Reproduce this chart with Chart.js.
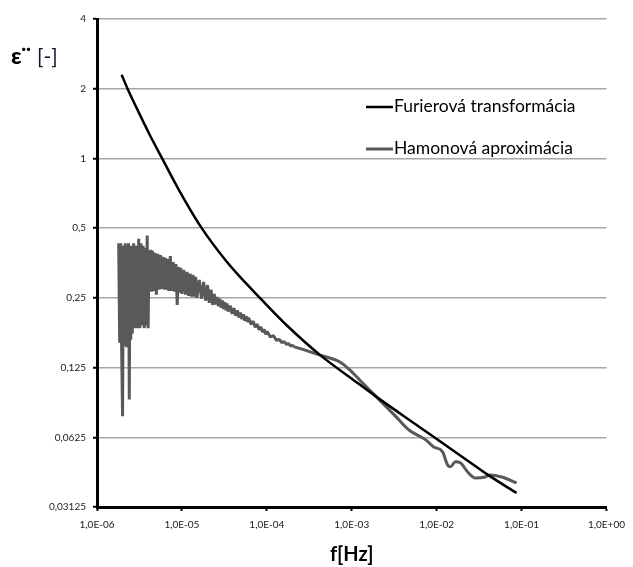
<!DOCTYPE html>
<html>
<head>
<meta charset="utf-8">
<script src="https://cdn.jsdelivr.net/npm/chart.js@4.4.0/dist/chart.umd.min.js"></script>
<style>
  body { margin: 0; background: #fff; }
  #wrap { width: 633px; height: 567px; }
</style>
</head>
<body>
<div id="wrap"><canvas id="myChart" width="633" height="567"></canvas></div>
<script>
// axis ticks
const xTicks = [1e-6, 1e-5, 1e-4, 1e-3, 1e-2, 1e-1, 1];
const xTickLabels = ["1,0E-06", "1,0E-05", "1,0E-04", "1,0E-03", "1,0E-02", "1,0E-01", "1,0E+00"];
const yTicks = [0.03125, 0.0625, 0.125, 0.25, 0.5, 1, 2, 4];
const yTickLabels = ["0,03125", "0,0625", "0,125", "0,25", "0,5", "1", "2", "4"];

const seriesNames = ["Furierová transformácia", "Hamonová aproximácia"];

// Furierová transformácia
const furierFreq = [1.95e-6, 2.29e-6, 2.77e-6, 3.43e-6, 4.13e-6, 5.85e-6, 9.23e-6, 1.71e-5,
  3.25e-5, 4.6e-5, 8.29e-5, 1.75e-4, 4.25e-4, 1.055e-3, 1.954e-3, 5.70e-3, 9.74e-3,
  2.17e-2, 4.02e-2, 8.75e-2];
const furierVal = [2.30, 2.0, 1.723, 1.465, 1.275, 1.0, 0.730, 0.5,
  0.364, 0.314, 0.25, 0.189, 0.1415, 0.1103, 0.0934, 0.0710, 0.0619,
  0.0504, 0.0430, 0.0359];

// Hamonová aproximácia, noisy low-frequency part
const hamonNoisyFreq = [
  1.80e-6, 1.85e-6, 1.90e-6, 1.95e-6, 2.00e-6, 2.05e-6, 2.10e-6, 2.15e-6, 2.20e-6, 2.25e-6,
  2.30e-6, 2.35e-6, 2.40e-6, 2.45e-6, 2.50e-6, 2.55e-6, 2.60e-6, 2.70e-6, 2.80e-6, 2.90e-6,
  3.00e-6, 3.10e-6, 3.20e-6, 3.30e-6, 3.40e-6, 3.50e-6, 3.60e-6, 3.70e-6, 3.80e-6, 3.90e-6,
  4.00e-6, 4.10e-6, 4.20e-6,
  4.3e-6, 4.4e-6, 4.5e-6, 4.6e-6, 4.7e-6, 4.8e-6, 4.9e-6, 5.0e-6,
  5.2e-6, 5.4e-6, 5.6e-6, 5.8e-6, 6.0e-6, 6.2e-6, 6.4e-6, 6.6e-6, 6.8e-6, 7.0e-6,
  7.3e-6, 7.6e-6, 7.9e-6, 8.2e-6, 8.5e-6, 8.8e-6, 9.1e-6, 9.4e-6, 9.7e-6,
  1.0e-5, 1.05e-5, 1.1e-5, 1.15e-5, 1.2e-5, 1.25e-5, 1.3e-5, 1.35e-5, 1.4e-5, 1.45e-5, 1.5e-5,
  1.6e-5, 1.7e-5, 1.8e-5, 1.9e-5, 2.0e-5, 2.1e-5, 2.2e-5, 2.3e-5, 2.4e-5,
  2.5e-5, 2.6e-5, 2.7e-5, 2.8e-5, 2.9e-5, 3.0e-5, 3.1e-5, 3.2e-5, 3.3e-5, 3.4e-5, 3.5e-5,
  3.7e-5, 3.9e-5, 4.1e-5, 4.3e-5, 4.5e-5, 4.7e-5, 4.9e-5, 5.1e-5, 5.3e-5, 5.5e-5,
  5.7e-5, 5.9e-5, 6.1e-5, 6.5e-5, 6.9e-5, 7.3e-5, 7.7e-5, 8.1e-5, 8.5e-5, 8.9e-5,
  9.3e-5, 9.7e-5, 1.01e-4, 1.1e-4, 1.2e-4, 1.3e-4, 1.4e-4, 1.5e-4, 1.6e-4, 1.7e-4,
  1.8e-4, 1.9e-4, 2.0e-4, 2.1e-4
];
const hamonNoisyVal = [
  0.43, 0.16, 0.43, 0.155, 0.077, 0.42, 0.16, 0.43, 0.155, 0.42,
  0.16, 0.43, 0.091, 0.42, 0.165, 0.41, 0.175, 0.43, 0.185, 0.42,
  0.185, 0.45, 0.185, 0.43, 0.19, 0.42, 0.185, 0.41, 0.19, 0.465,
  0.185, 0.40, 0.27,
  0.403, 0.266, 0.399, 0.268, 0.391, 0.271, 0.387, 0.258,
  0.387, 0.271, 0.383, 0.273, 0.376, 0.271, 0.372, 0.271, 0.368, 0.268,
  0.379, 0.268, 0.357, 0.266, 0.350, 0.233, 0.340, 0.263, 0.337,
  0.260, 0.330, 0.258, 0.324, 0.255, 0.318, 0.253, 0.314, 0.253, 0.308, 0.250,
  0.299, 0.248, 0.293, 0.243, 0.284, 0.238, 0.271, 0.233, 0.260,
  0.2339, 0.2525, 0.2302, 0.2478, 0.2265, 0.2439, 0.2237, 0.2397, 0.2208, 0.2362, 0.2182,
  0.2316, 0.2132, 0.2257, 0.2094, 0.2208, 0.2057, 0.2162, 0.2025, 0.2124, 0.1993,
  0.2086, 0.1967, 0.2051, 0.1922, 0.1983, 0.1868, 0.1924, 0.1821, 0.1874, 0.1778,
  0.1828, 0.1739, 0.1788, 0.1695, 0.1716, 0.1637, 0.1655, 0.1604, 0.1618, 0.1576,
  0.1586, 0.1552, 0.1558, 0.1536
];

// Hamonová aproximácia, smooth high-frequency part
const hamonSmoothFreq = [2.1e-4, 3.0e-4, 4.25e-4, 7.24e-4, 9.48e-4, 1.24e-3, 1.954e-3, 3.34e-3,
  4.72e-3, 7.45e-3, 9.23e-3, 1.175e-2, 1.343e-2, 1.455e-2, 1.663e-2, 1.90e-2, 2.36e-2,
  2.84e-2, 3.72e-2, 4.25e-2, 5.85e-2, 8.75e-2];
const hamonSmoothVal = [0.1536, 0.1476, 0.1415, 0.1322, 0.1222, 0.1105, 0.0934, 0.0766,
  0.0672, 0.0609, 0.0568, 0.0541, 0.0475, 0.0466, 0.0490, 0.0485, 0.0439,
  0.0417, 0.0421, 0.0430, 0.0421, 0.0397];

const FONT = "Lato, 'Open Sans', sans-serif";
const GRAY = "#595959";

function toPoints(xs, ys) {
  return xs.map((x, i) => ({ x: x, y: ys[i] }));
}

// legend drawn inside the plot area
const innerLegend = {
  id: "innerLegend",
  afterDraw(chart) {
    const ctx = chart.ctx;
    const rows = [107, 149];
    ctx.save();
    chart.data.datasets.filter(ds => ds.inLegend).forEach((ds, i) => {
      const y = rows[i];
      ctx.strokeStyle = ds.borderColor;
      ctx.lineWidth = ds.borderWidth;
      ctx.beginPath();
      ctx.moveTo(366, y);
      ctx.lineTo(393, y);
      ctx.stroke();
      ctx.fillStyle = "#000";
      ctx.font = "17.5px " + FONT;
      ctx.textBaseline = "middle";
      ctx.textAlign = "left";
      ctx.fillText(ds.label, 394, y - 1);
    });
    ctx.restore();
  }
};

// horizontal y-axis title at top left
const yTitle = {
  id: "yTitle",
  afterDraw(chart) {
    const ctx = chart.ctx;
    ctx.save();
    ctx.fillStyle = "#000";
    ctx.textBaseline = "alphabetic";
    ctx.font = "900 23px " + FONT;
    ctx.fillText("ε¨", 11, 64);
    ctx.fillStyle = "#0b1630";
    ctx.font = "21px " + FONT;
    ctx.fillText("[-]", 37, 64);
    ctx.restore();
  }
};

const ctx = document.getElementById("myChart").getContext("2d");

const myChart = new Chart(ctx, {
  type: "line",
  data: {
    datasets: [
      {
        label: seriesNames[0],
        inLegend: true,
        data: toPoints(furierFreq, furierVal),
        borderColor: "#000000",
        borderWidth: 2.5,
        pointRadius: 0,
        cubicInterpolationMode: "monotone",
        order: 0
      },
      {
        label: seriesNames[1],
        inLegend: true,
        data: toPoints(hamonSmoothFreq, hamonSmoothVal),
        borderColor: GRAY,
        borderWidth: 3,
        pointRadius: 0,
        cubicInterpolationMode: "monotone",
        order: 1
      },
      {
        label: seriesNames[1],
        inLegend: false,
        data: toPoints(hamonNoisyFreq, hamonNoisyVal),
        borderColor: GRAY,
        borderWidth: 3,
        borderJoinStyle: "bevel",
        pointRadius: 0,
        tension: 0,
        order: 1
      }
    ]
  },
  options: {
    responsive: false,
    animation: false,
    devicePixelRatio: 1,
    layout: { padding: { left: 0, right: 21, top: 19, bottom: 0 } },
    plugins: { legend: { display: false }, tooltip: { enabled: false } },
    scales: {
      x: {
        type: "logarithmic",
        min: 1e-6,
        max: 1,
        afterBuildTicks: (s) => { s.ticks = xTicks.map(v => ({ value: v })); },
        afterFit: (s) => { s.height = 60; },
        ticks: {
          callback: (v, i) => xTickLabels[i],
          autoSkip: false,
          maxRotation: 0,
          color: "#1a1a1a",
          font: { family: FONT, size: 10 },
          padding: 8
        },
        grid: { drawOnChartArea: false, tickLength: 4, tickColor: "#000", tickWidth: 2 },
        border: { color: "#000", width: 3 },
        title: {
          display: true,
          text: "f[Hz]",
          color: "#000",
          font: { family: FONT, size: 20, weight: "bold" },
          padding: { top: 5, bottom: 0 }
        }
      },
      y: {
        type: "logarithmic",
        min: 0.03125,
        max: 4,
        afterBuildTicks: (s) => { s.ticks = yTicks.map(v => ({ value: v })); },
        afterFit: (s) => { s.width = 97; },
        ticks: {
          callback: (v, i) => yTickLabels[i],
          autoSkip: false,
          color: "#1a1a1a",
          font: { family: FONT, size: 10 },
          padding: 7
        },
        grid: { color: "#a6a6a6", lineWidth: 1.5, tickLength: 4, tickColor: "#000", tickWidth: 2 },
        border: { color: "#000", width: 3 }
      }
    }
  },
  plugins: [innerLegend, yTitle]
});
</script>
</body>
</html>
